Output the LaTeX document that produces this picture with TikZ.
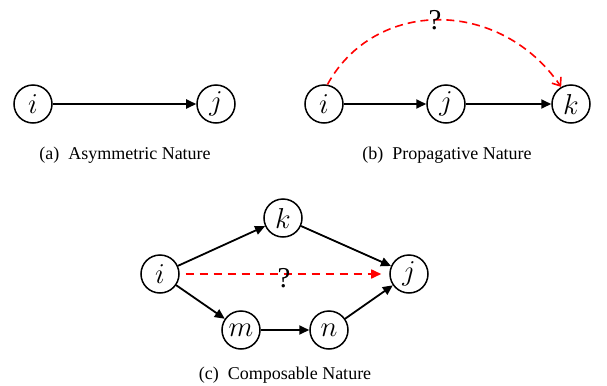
\documentclass[tikz,border=0pt]{standalone}
\usepackage{fontspec}
\setmainfont{Liberation Serif}
\usetikzlibrary{arrows.meta}
\begin{document}
\begin{tikzpicture}[x=0.5pt,y=-0.5pt,
    vertex/.style={circle,draw,line width=0.75pt,minimum size=19pt,inner sep=0pt,font=\Large},
    edge/.style={line width=0.9pt,-{Triangle[length=5pt,width=4.5pt]}},
    guess/.style={red,line width=0.8pt,dash pattern=on 4pt off 2.5pt},
    caption/.style={font=\small}]
    \useasboundingbox (0,0) rectangle (607,386);
    % (a)
    \node[vertex] (ai) at (33,104) {$i$};
    \node[vertex] (aj) at (216,104) {$j$};
    \draw[edge] (ai) -- (aj);
    \node[caption] (capa) at (125,155) {(a)\enspace Asymmetric Nature};
    % (b)
    \node[vertex] (bi) at (324,104) {$i$};
    \node[vertex] (bj) at (446,104) {$j$};
    \node[vertex] (bk) at (571,104) {$k$};
    \draw[edge] (bi) -- (bj);
    \draw[edge] (bj) -- (bk);
    \draw[guess,-{Straight Barb[length=3.5pt,width=5.5pt]}]
        (bi.80) .. controls (375,-2) and (500,-2) .. (bk.120);
    \node[font=\Large] (qb) at (435,20) {?};
    \node[caption] (capb) at (447,155) {(b)\enspace Propagative Nature};
    % (c)
    \node[vertex] (ci) at (160,274) {$i$};
    \node[vertex] (ck) at (283,218) {$k$};
    \node[vertex] (cj) at (409,274) {$j$};
    \node[vertex] (cm) at (241,330) {$m$};
    \node[vertex] (cn) at (329,330) {$n$};
    \draw[edge] (ci) -- (ck);
    \draw[edge] (ck) -- (cj);
    \draw[edge] (ci) -- (cm);
    \draw[edge] (cm) -- (cn);
    \draw[edge] (cn) -- (cj);
    \draw[guess,dash pattern=on 4pt off 3pt,shorten <=3pt,shorten >=4pt,
        -{Triangle[length=5pt,width=4.5pt]}] (ci.east) -- (cj.west);
    \node[font=\Large] (qc) at (284,278) {?};
    \node[caption] (capc) at (285,375) {(c)\enspace Composable Nature};
\end{tikzpicture}
\end{document}
